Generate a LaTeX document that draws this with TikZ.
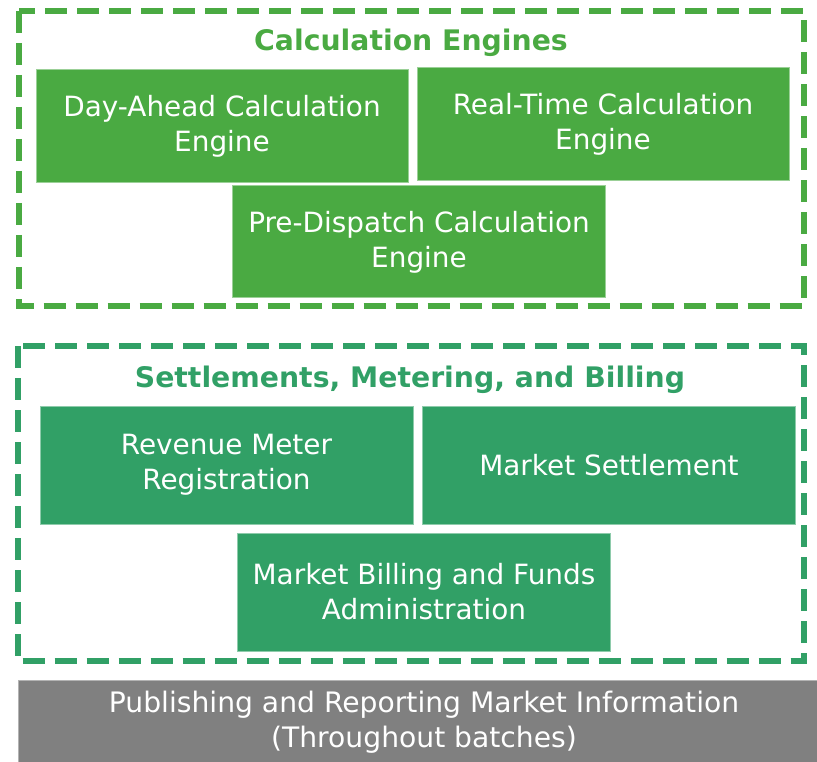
\documentclass[tikz,border=0pt]{standalone}
\usepackage{fontspec}
\setmainfont{DejaVu Sans}
\definecolor{gA}{RGB}{74,170,66}
\definecolor{gB}{RGB}{49,160,102}
\definecolor{grayP}{RGB}{128,128,128}
\begin{document}
\begin{tikzpicture}[x=1pt,y=-1pt,
  frameA/.style={draw=gA,line width=6pt,dash pattern=on 22pt off 10pt},
  frameB/.style={draw=gB,line width=6pt,dash pattern=on 22pt off 10pt},
  titleA/.style={text=gA,font=\fontsize{28.3}{34}\selectfont\bfseries,anchor=base,inner sep=0pt},
  titleB/.style={text=gB,font=\fontsize{28.3}{34}\selectfont\bfseries,anchor=base,inner sep=0pt},
  boxA/.style={fill=gA,draw=gA!55!white,line width=1pt,text=white,align=center,inner sep=0pt,
    font=\fontsize{27.9}{35}\selectfont},
  boxB/.style={fill=gB,draw=gB!55!white,line width=1pt,text=white,align=center,inner sep=0pt,
    font=\fontsize{27.9}{35}\selectfont},
  boxG/.style={fill=grayP,draw=grayP!60!white,line width=1pt,text=white,align=center,inner sep=0pt,
    font=\fontsize{28.2}{35}\selectfont}]
\useasboundingbox (0,0) rectangle (817,762);
% top group
\draw[frameA] (18.5,11) rectangle (803.5,306);
\node[titleA] (tA) at (411,51) {Calculation Engines};
\node[boxA,minimum width=372pt,minimum height=113pt] (da) at (222,126.5) {Day-Ahead Calculation\\Engine};
\node[boxA,minimum width=372pt,minimum height=113pt] (rt) at (603,124.5) {Real-Time Calculation\\Engine};
\node[boxA,minimum width=373pt,minimum height=112pt] (pd) at (419,242) {Pre-Dispatch Calculation\\Engine};
% bottom group
\draw[frameB] (17.5,346) rectangle (804,661);
\node[titleB] (tB) at (410,387) {Settlements, Metering, and Billing};
\node[boxB,minimum width=373pt,minimum height=118pt] (rm) at (226.5,465) {Revenue Meter\\Registration};
\node[boxB,minimum width=373pt,minimum height=118pt] (ms) at (609,465) {Market Settlement};
\node[boxB,minimum width=373pt,minimum height=118pt] (mb) at (424,592) {Market Billing and Funds\\Administration};
% publishing bar
\node[boxG,minimum width=812pt,minimum height=84pt] (pub) at (424,722) {Publishing and Reporting Market Information\\(Throughout batches)};
\end{tikzpicture}
\end{document}
